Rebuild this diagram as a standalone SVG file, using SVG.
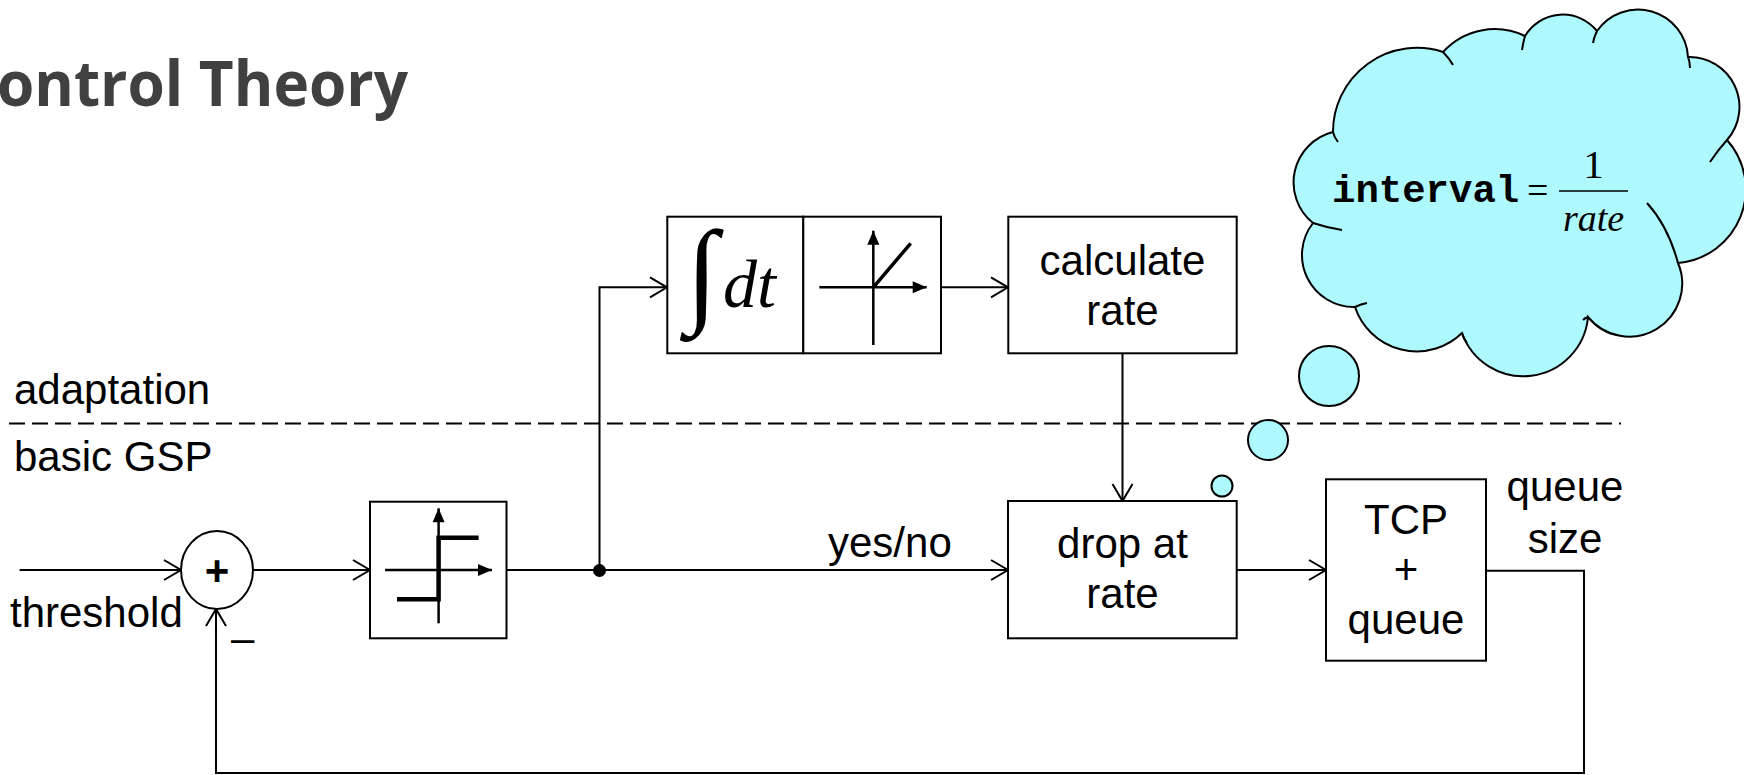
<svg xmlns="http://www.w3.org/2000/svg" width="1744" height="775" viewBox="0 0 1744 775">
  <defs>
    <marker id="open" markerUnits="userSpaceOnUse" markerWidth="22" markerHeight="24" refX="17" refY="10" orient="auto" overflow="visible">
      <path d="M0,0 L17,10 L0,20" fill="none" stroke="#000" stroke-width="2"/>
    </marker>
    <marker id="tri" markerUnits="userSpaceOnUse" markerWidth="16" markerHeight="14" refX="14" refY="6" orient="auto" overflow="visible">
      <path d="M0,0 L14,6 L0,12 z" fill="#000"/>
    </marker>
    <style>
      .box { fill: #fff; stroke: #000; stroke-width: 2; }
      .wire { fill: none; stroke: #000; stroke-width: 2; }
      .arrow { marker-end: url(#open); }
      .axis { fill: none; stroke: #000; stroke-width: 2.5; marker-end: url(#tri); }
      .lbl { font-family: "Liberation Sans", Arial, sans-serif; font-size: 42px; fill: #000; }
      .mid { text-anchor: middle; }
      .cloud { fill: #aef9fd; stroke: #000; stroke-width: 2; }
      .seam { fill: none; stroke: #000; stroke-width: 2; }
      .serif { font-family: "Liberation Serif", "Times New Roman", serif; fill: #000; }
    </style>
  </defs>

  <rect width="1744" height="775" fill="#fff"/>

  <!-- heading -->
  <text x="-3" y="106" font-family="'Open Sans', sans-serif" font-weight="700" font-size="62" fill="#404040" textLength="411" lengthAdjust="spacingAndGlyphs">ontrol Theory</text>

  <!-- layer labels and separator -->
  <text class="lbl" x="14" y="404">adaptation</text>
  <line x1="9" y1="423.5" x2="1621" y2="423.5" stroke="#000" stroke-width="2" stroke-dasharray="16 7"/>
  <text class="lbl" x="14" y="471">basic GSP</text>

  <!-- connectors -->
  <g id="connectors">
    <path class="wire arrow" d="M19.6,570 H181"/>
    <path class="wire arrow" d="M253,570 H370"/>
    <path class="wire arrow" d="M506.5,570 H1008"/>
    <path class="wire arrow" d="M599.5,570 V287.3 H667"/>
    <path class="wire arrow" d="M941,287.3 H1008"/>
    <path class="wire arrow" d="M1122.5,353.3 V501"/>
    <path class="wire arrow" d="M1236.7,570 H1326"/>
    <path class="wire arrow" d="M1486,570.7 H1584 V773 H216 V609"/>
    <circle cx="599.5" cy="570.5" r="6.5" fill="#000"/>
  </g>

  <text class="lbl" x="828" y="557">yes/no</text>
  <text class="lbl" x="10" y="627">threshold</text>
  <text class="lbl" x="231" y="652" font-size="40">–</text>

  <!-- summing junction -->
  <g id="sum">
    <ellipse class="box" cx="217" cy="570" rx="36" ry="39"/>
    <text class="lbl mid" x="217" y="585" font-size="40" font-weight="700">+</text>
  </g>

  <!-- relay / step block -->
  <g id="relay">
    <rect class="box" x="370" y="501.7" width="136.5" height="136.6"/>
    <line class="axis" x1="385" y1="570" x2="492" y2="570"/>
    <line class="axis" x1="438.6" y1="623.3" x2="438.6" y2="508.3"/>
    <polyline points="397,599.3 438.6,599.3 438.6,537.7 478.6,537.7" fill="none" stroke="#000" stroke-width="4.5"/>
  </g>

  <!-- integrator -->
  <g id="integrator">
    <rect class="box" x="667.3" y="216.7" width="136" height="136.6"/>
    <text class="serif" x="686" y="311" font-size="116">∫</text>
    <text class="serif" x="723" y="307" font-size="68" font-style="italic">dt</text>
  </g>

  <!-- ramp / limiter -->
  <g id="ramp">
    <rect class="box" x="803.3" y="216.7" width="137.7" height="136.6"/>
    <line class="axis" x1="819.3" y1="287.3" x2="926.7" y2="287.3"/>
    <line class="axis" x1="873.3" y1="345" x2="873.3" y2="230.7"/>
    <line x1="873.3" y1="287.3" x2="910.7" y2="243.3" stroke="#000" stroke-width="3.5"/>
  </g>

  <g id="calc">
    <rect class="box" x="1008.3" y="216.7" width="228.4" height="136.6"/>
    <text class="lbl mid" x="1122.5" y="275">calculate</text>
    <text class="lbl mid" x="1122.5" y="325">rate</text>
  </g>

  <g id="drop">
    <rect class="box" x="1008" y="501" width="228.7" height="137.3"/>
    <text class="lbl mid" x="1122.5" y="558">drop at</text>
    <text class="lbl mid" x="1122.5" y="608">rate</text>
  </g>

  <g id="tcp">
    <rect class="box" x="1326" y="479.3" width="160" height="181.4"/>
    <text class="lbl mid" x="1406" y="534">TCP</text>
    <text class="lbl mid" x="1406" y="584">+</text>
    <text class="lbl mid" x="1406" y="634">queue</text>
  </g>

  <text class="lbl mid" x="1565" y="501">queue</text>
  <text class="lbl mid" x="1565" y="553">size</text>

  <!-- thought cloud -->
  <g id="thought">
    <path class="cloud" d="M1333,132
      A84,84 0 0 1 1443,52
      A70,70 0 0 1 1525,36
      A44,44 0 0 1 1597,31
      A50,50 0 0 1 1688,57
      A50,50 0 0 1 1727,140
      A74,74 0 0 1 1678,263
      A53,53 0 0 1 1588,317
      A65,65 0 0 1 1462,333
      A65,65 0 0 1 1355,307
      A52,52 0 0 1 1313,223
      A52,52 0 0 1 1333,132 z"/>
    <path class="seam" d="M1333,132 Q1334,137 1338,142"/>
    <path class="seam" d="M1313,223 Q1328,228 1342,230"/>
    <path class="seam" d="M1355,307 Q1361,304 1367,303"/>
    <path class="seam" d="M1462,333 Q1463,338 1467,343"/>
    <path class="seam" d="M1588,317 Q1585,318 1583,320"/>
    <path class="seam" d="M1678,263 Q1668,226 1647,203"/>
    <path class="seam" d="M1727,140 Q1718,150 1710,162"/>
    <path class="seam" d="M1688,57 Q1690,62 1690,68"/>
    <path class="seam" d="M1597,31 Q1594,37 1593,43"/>
    <path class="seam" d="M1525,36 Q1523,43 1522,50"/>
    <path class="seam" d="M1443,52 Q1449,58 1453,65"/>
    <text x="1332" y="202" font-family="'Liberation Mono', 'Courier New', monospace" font-weight="700" font-size="39" fill="#000">interval</text>
    <text class="serif" x="1527" y="203" font-size="38">=</text>
    <line x1="1559" y1="191" x2="1628" y2="191" stroke="#000" stroke-width="1.6"/>
    <text class="serif mid" x="1593.5" y="178" font-size="41">1</text>
    <text class="serif" x="1563" y="231" font-size="38" font-style="italic">rate</text>
    <circle class="cloud" cx="1329" cy="376" r="30"/>
    <circle class="cloud" cx="1268" cy="440" r="20"/>
    <circle class="cloud" cx="1222" cy="486" r="10.5"/>
  </g>
</svg>
